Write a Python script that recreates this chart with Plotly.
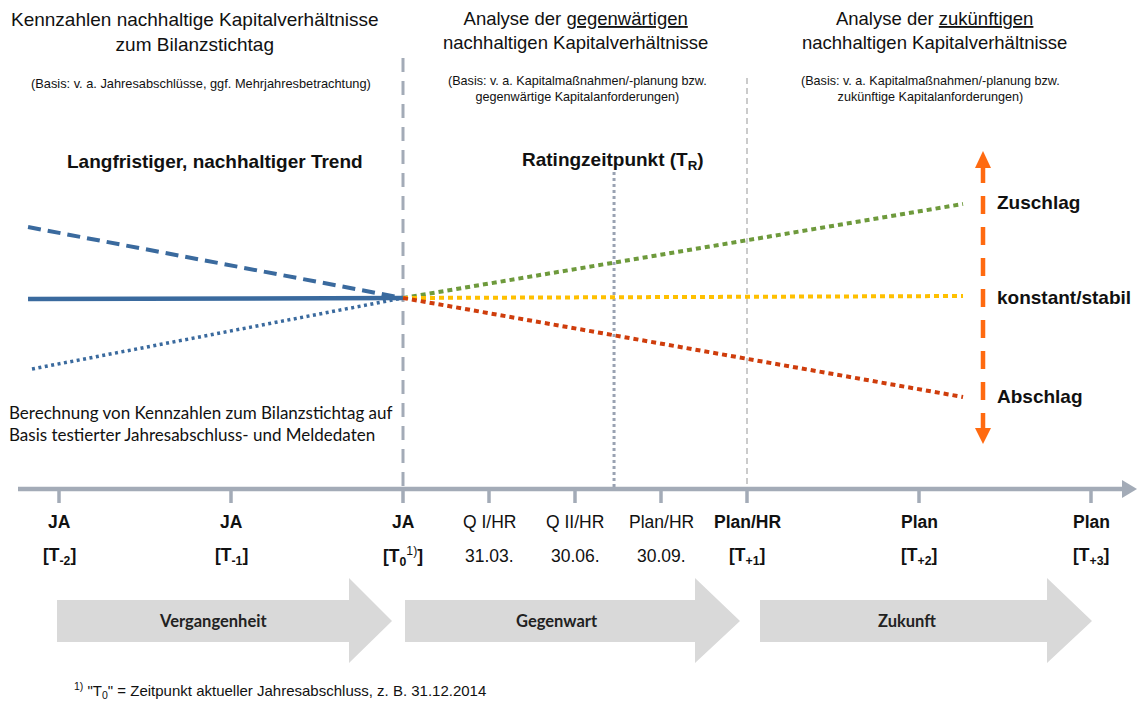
import plotly.graph_objects as go

W, H = 1137, 701

# ---- timeline (position units: one unit per year, the current year spans two) ----
tick_pos = [0, 1, 2, 2.5, 3, 3.5, 4, 5, 6]
tick_top = ["<b>JA</b>", "<b>JA</b>", "<b>JA</b>", "Q I/HR", "Q II/HR", "Plan/HR",
            "<b>Plan/HR</b>", "<b>Plan</b>", "<b>Plan</b>"]
tick_bottom = ["<b>[T<sub>-2</sub>]</b>", "<b>[T<sub>-1</sub>]</b>",
               "<b>[T<sub>0</sub></b><sup>1)</sup><b>]</b>",
               "31.03.", "30.06.", "30.09.",
               "<b>[T<sub>+1</sub>]</b>", "<b>[T<sub>+2</sub>]</b>", "<b>[T<sub>+3</sub>]</b>"]
t0_pos = 2
t1_pos = 4
rating_pos = 3.227

# ---- trend levels (index, 100 = level at balance sheet date) ----
past_x = [-0.18, 2]
past_dotted_x = [-0.157, 2]
past_falling = [114.2, 100]
past_flat = [99.8, 100]
past_rising = [85.8, 100]

future_x = [2, 5.256]
future_up = [100, 118.8]
future_stable = [100, 100.4]
future_down = [100, 80.2]

ARIAL = "Liberation Sans, Arial, sans-serif"
CALIBRI = "Lato, Calibri, sans-serif"
BLUE = "#3a6a9e"
GRAY = "#a3abb7"


def px(v):
    return v / W


def py(v):
    return 1 - v / H


fig = go.Figure()


def trend(x, y, color, width, dash):
    fig.add_trace(go.Scatter(x=x, y=y, mode="lines", hoverinfo="skip",
                             line=dict(color=color, width=width, dash=dash)))


trend(past_x, past_falling, BLUE, 4, "13px,7px")
trend(past_x, past_flat, BLUE, 4.5, "solid")
trend(past_dotted_x, past_rising, BLUE, 3.5, "3px,3.5px")
trend(future_x, future_up, "#6e9a3c", 4, "5px,4px")
trend(future_x, future_stable, "#ffc000", 4, "5px,4px")
trend(future_x, future_down, "#cf3d0c", 4, "5px,4px")

shapes = []
annotations = []

# vertical markers
shapes.append(dict(type="line", xref="x", yref="paper", x0=t0_pos, x1=t0_pos,
                   y0=py(58), y1=py(489), line=dict(color=GRAY, width=3, dash="14px,9px"),
                   layer="below"))
shapes.append(dict(type="line", xref="x", yref="paper", x0=t1_pos, x1=t1_pos,
                   y0=py(78), y1=py(489), line=dict(color="#a9a9a9", width=1.2, dash="6px,4px"),
                   layer="below"))
shapes.append(dict(type="line", xref="x", yref="paper", x0=rating_pos, x1=rating_pos,
                   y0=py(172), y1=py(489), line=dict(color="#99a2b2", width=3, dash="3px,3px"),
                   layer="below"))

# timeline axis with arrow
shapes.append(dict(type="line", xref="paper", yref="paper", x0=px(18), x1=px(1126),
                   y0=py(489), y1=py(489), line=dict(color=GRAY, width=4.5)))
shapes.append(dict(type="path", xref="paper", yref="paper",
                   path=f"M {px(1122)},{py(480)} L {px(1137)},{py(489)} L {px(1122)},{py(498)} Z",
                   fillcolor=GRAY, line=dict(width=0)))
for i, t in enumerate(tick_pos):
    shapes.append(dict(type="line", xref="x", yref="paper", x0=t, x1=t,
                       y0=py(489), y1=py(503), line=dict(color=GRAY, width=3.5)))
    annotations.append(dict(x=t, y=py(522), xref="x", yref="paper", text=tick_top[i],
                            showarrow=False, font=dict(family=ARIAL, size=17.5, color="#111"),
                            xanchor="center", yanchor="middle"))
    annotations.append(dict(x=t, y=py(556), xref="x", yref="paper", text=tick_bottom[i],
                            showarrow=False, font=dict(family=ARIAL, size=17.5, color="#111"),
                            xanchor="center", yanchor="middle"))

# phase arrows
phases = ["Vergangenheit", "Gegenwart", "Zukunft"]
phase_spans = [(57, 349, 392), (405, 695, 740), (760, 1047, 1092)]
phase_label_x = [213, 557, 907]
for name, (x0, xh, xt), lx in zip(phases, phase_spans, phase_label_x):
    path = (f"M {px(x0)},{py(600)} L {px(xh)},{py(600)} L {px(xh)},{py(578)} "
            f"L {px(xt)},{py(621)} L {px(xh)},{py(663)} L {px(xh)},{py(642)} "
            f"L {px(x0)},{py(642)} Z")
    shapes.append(dict(type="path", xref="paper", yref="paper", path=path,
                       fillcolor="#d9d9d9", line=dict(width=0), layer="below"))
    annotations.append(dict(x=px(lx), y=py(621), xref="paper", yref="paper",
                            text=f"<b>{name}</b>", showarrow=False,
                            font=dict(family=CALIBRI, size=16.5, color="#222"),
                            xanchor="center", yanchor="middle"))

# orange adjustment arrow
ORANGE = "#ff6a10"
shapes.append(dict(type="line", xref="paper", yref="paper", x0=px(983), x1=px(983),
                   y0=py(165), y1=py(430), line=dict(color=ORANGE, width=4.5, dash="18px,13px")))
shapes.append(dict(type="path", xref="paper", yref="paper",
                   path=f"M {px(975)},{py(168)} L {px(983)},{py(151)} L {px(991)},{py(168)} Z",
                   fillcolor=ORANGE, line=dict(width=0)))
shapes.append(dict(type="path", xref="paper", yref="paper",
                   path=f"M {px(975)},{py(428)} L {px(983)},{py(444)} L {px(991)},{py(428)} Z",
                   fillcolor=ORANGE, line=dict(width=0)))


def label(x, y, text, size, family=ARIAL, anchor="center", color="#111"):
    annotations.append(dict(x=px(x), y=py(y), xref="paper", yref="paper", text=text,
                            showarrow=False, font=dict(family=family, size=size, color=color),
                            xanchor=anchor, yanchor="middle", align=anchor))


# headers
label(195, 32.5, "Kennzahlen nachhaltige Kapitalverhältnisse<br>zum Bilanzstichtag", 19)
label(575, 30.5, "Analyse der <u>gegenwärtigen</u><br>nachhaltigen Kapitalverhältnisse", 18.5)
label(934, 30.5, "Analyse der <u>zukünftigen</u><br>nachhaltigen Kapitalverhältnisse", 18.5)
label(201, 83, "(Basis: v. a. Jahresabschlüsse, ggf. Mehrjahresbetrachtung)", 12.8)
label(577, 88.5, "(Basis: v. a. Kapitalmaßnahmen/-planung bzw.<br>gegenwärtige Kapitalanforderungen)", 12.6)
label(930, 88.5, "(Basis: v. a. Kapitalmaßnahmen/-planung bzw.<br>zukünftige Kapitalanforderungen)", 12.6)

label(215, 161, "<b>Langfristiger, nachhaltiger Trend</b>", 19)
label(613, 161, "<b>Ratingzeitpunkt (T<sub>R</sub>)</b>", 19)

label(995, 203, "<b>Zuschlag</b>", 19, anchor="left")
label(995, 297, "<b>konstant/stabil</b>", 19, anchor="left")
label(995, 397, "<b>Abschlag</b>", 19, anchor="left")

label(7, 423, "Berechnung von Kennzahlen zum Bilanzstichtag auf<br>Basis testierter Jahresabschluss- und Meldedaten",
      17, family=CALIBRI, anchor="left")

label(72, 690, "<sup>1)</sup> \"T<sub>0</sub>\" = Zeitpunkt aktueller Jahresabschluss, z. B. 31.12.2014",
      15, family=ARIAL, anchor="left")

fig.update_layout(
    width=W, height=H,
    margin=dict(l=0, r=0, t=0, b=0),
    paper_bgcolor="white", plot_bgcolor="white",
    showlegend=False,
    xaxis=dict(range=[-59 / 172, (W - 59) / 172], visible=False, fixedrange=True),
    yaxis=dict(range=[70, 130], domain=[1 - 448 / H, 1 - 148 / H], visible=False, fixedrange=True),
    shapes=shapes,
    annotations=annotations,
)

fig.write_html("out.html")
